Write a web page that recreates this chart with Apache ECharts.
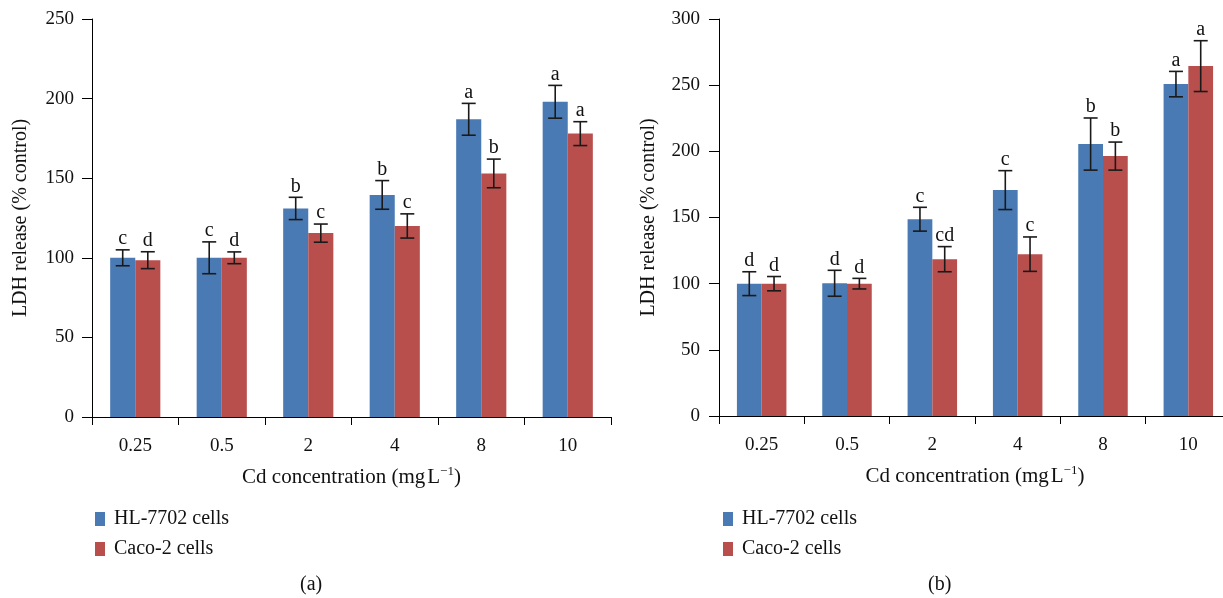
<!DOCTYPE html>
<html>
<head>
<meta charset="utf-8">
<script src="https://cdn.jsdelivr.net/npm/echarts@6/dist/echarts.min.js"></script>
<style>
  html, body { margin: 0; padding: 0; background: #fff; }
  #chart { width: 1223px; height: 598px; }
</style>
</head>
<body>
<div id="chart"></div>
<script>
// concentrations (mg/L)
const categories = ['0.25', '0.5', '2', '4', '8', '10']

// panel (a)
const hlA = [100, 100, 131, 139.5, 187, 198]
const hlAErr = [5, 10, 7, 9, 10, 10.3]
const hlALetters = ['c', 'c', 'b', 'b', 'a', 'a']
const cacoA = [98.5, 100, 115.5, 120, 153, 178]
const cacoAErr = [5.3, 3.7, 5.7, 7.6, 9, 7.5]
const cacoALetters = ['d', 'd', 'c', 'c', 'b', 'a']

// panel (b)
const hlB = [100, 100.3, 148.7, 170.7, 205.5, 250.8]
const hlBErr = [9, 9.8, 9, 14.7, 19.7, 9.6]
const hlBLetters = ['d', 'd', 'c', 'c', 'b', 'a']
const cacoB = [100, 100, 118.5, 122.3, 196.4, 264.4]
const cacoBErr = [5.4, 4, 9.5, 13, 10.6, 19.2]
const cacoBLetters = ['d', 'd', 'cd', 'c', 'b', 'a']

const yTicksA = { min: 0, max: 250, interval: 50 }
const yTicksB = { min: 0, max: 300, interval: 50 }

const BLUE = '#4A7AB4'
const RED = '#B84F4D'
const FONT = '"Liberation Serif", "DejaVu Serif", serif'
const GAP = 0.42

const chart = echarts.init(document.getElementById('chart'))

const xAxisFor = (gridIndex) => ({
  type: 'category',
  gridIndex,
  data: categories,
  axisLine: { lineStyle: { color: '#000', width: 1 } },
  axisTick: { show: true, length: 8, inside: false, lineStyle: { color: '#000' } },
  axisLabel: { color: '#111', fontFamily: FONT, fontSize: 19, margin: 20 },
  name: 'Cd concentration (mg{s| }L{sup|−1})',
  nameLocation: 'middle',
  nameGap: 48,
  nameTextStyle: {
    color: '#111', fontFamily: FONT, fontSize: 21,
    rich: {
      s: { fontFamily: FONT, fontSize: 8 },
      sup: { fontFamily: FONT, fontSize: 13, verticalAlign: 'top', padding: [0, 0, 12, 0] }
    }
  }
})

const yAxisFor = (gridIndex, ticks, margin, gap) => ({
  type: 'value',
  gridIndex,
  min: ticks.min,
  max: ticks.max,
  interval: ticks.interval,
  splitLine: { show: false },
  axisLine: { show: true, lineStyle: { color: '#000', width: 1 } },
  axisTick: { show: true, length: 10, lineStyle: { color: '#000' } },
  axisLabel: { color: '#111', fontFamily: FONT, fontSize: 19, margin },
  name: 'LDH release (% control)',
  nameLocation: 'middle',
  nameGap: gap,
  nameRotate: 90,
  nameTextStyle: { color: '#111', fontFamily: FONT, fontSize: 20 }
})

// error bar + significance letter, side = -1 for left bar, +1 for right bar
const errorSeries = (name, xIdx, values, errs, letters, side) => ({
  type: 'custom',
  name: name + ' err',
  xAxisIndex: xIdx,
  yAxisIndex: xIdx,
  silent: true,
  clip: false,
  z: 5,
  data: values.map((v, i) => [i, v, errs[i], letters[i]]),
  encode: { x: 0, y: 1 },
  renderItem: (params, api) => {
    const idx = api.value(0)
    const v = api.value(1)
    const e = api.value(2)
    const letter = letters[idx]
    const band = api.size([1, 0])[0]
    const off = side * band * (1 - GAP) / 4
    const hi = api.coord([idx, v + e])
    const lo = api.coord([idx, v - e])
    const x = hi[0] + off
    const cap = 7
    const style = { stroke: '#1a1a1a', lineWidth: 1.6 }
    return {
      type: 'group',
      children: [
        { type: 'line', shape: { x1: x, y1: hi[1], x2: x, y2: lo[1] }, style },
        { type: 'line', shape: { x1: x - cap, y1: hi[1], x2: x + cap, y2: hi[1] }, style },
        { type: 'line', shape: { x1: x - cap, y1: lo[1], x2: x + cap, y2: lo[1] }, style },
        {
          type: 'text',
          x: x,
          y: hi[1] - 1,
          style: {
            text: letter, fill: '#111', font: '20px ' + FONT,
            textAlign: 'center', textVerticalAlign: 'bottom'
          }
        }
      ]
    }
  }
})

const barSeries = (name, xIdx, data, color) => ({
  type: 'bar',
  name,
  xAxisIndex: xIdx,
  yAxisIndex: xIdx,
  data,
  barGap: '0%',
  barCategoryGap: (GAP * 100) + '%',
  itemStyle: { color },
  z: 2
})

const legendFor = (left) => ({
  orient: 'vertical',
  left,
  top: 504,
  icon: 'rect',
  itemWidth: 10,
  itemHeight: 14,
  itemGap: 10,
  selectedMode: false,
  data: ['HL-7702 cells', 'Caco-2 cells'],
  textStyle: { color: '#111', fontFamily: FONT, fontSize: 20, padding: [0, 0, 0, 4] }
})

const option = {
  animation: false,
  grid: [
    { left: 92, top: 19, width: 519, height: 398, outerBoundsMode: 'none' },
    { left: 719, top: 19, width: 512, height: 397, outerBoundsMode: 'none' }
  ],
  xAxis: [xAxisFor(0), xAxisFor(1)],
  yAxis: [yAxisFor(0, yTicksA, 18, 61), yAxisFor(1, yTicksB, 19, 60)],
  legend: [legendFor(90), legendFor(718)],
  series: [
    barSeries('HL-7702 cells', 0, hlA, BLUE),
    barSeries('Caco-2 cells', 0, cacoA, RED),
    barSeries('HL-7702 cells', 1, hlB, BLUE),
    barSeries('Caco-2 cells', 1, cacoB, RED),
    errorSeries('HL-7702 cells', 0, hlA, hlAErr, hlALetters, -1),
    errorSeries('Caco-2 cells', 0, cacoA, cacoAErr, cacoALetters, 1),
    errorSeries('HL-7702 cells', 1, hlB, hlBErr, hlBLetters, -1),
    errorSeries('Caco-2 cells', 1, cacoB, cacoBErr, cacoBLetters, 1)
  ],
  graphic: [
    { type: 'text', left: 300, top: 575, style: { text: '(a)', fill: '#111', font: '20px ' + FONT } },
    { type: 'text', left: 928, top: 575, style: { text: '(b)', fill: '#111', font: '20px ' + FONT } }
  ]
}

chart.setOption(option)
</script>
</body>
</html>
